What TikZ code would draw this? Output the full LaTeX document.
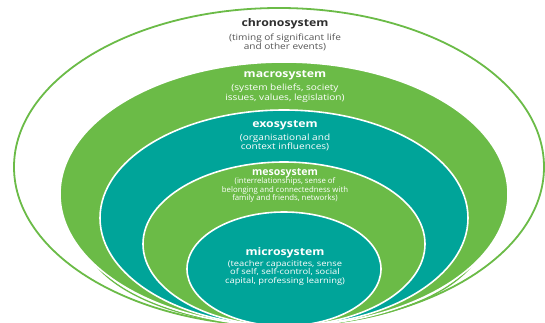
\documentclass[tikz,border=0pt]{standalone}
\usepackage{fontspec}
\setmainfont{Open Sans}
\newfontfamily\ringfont[FakeStretch=1.17]{Open Sans}
\definecolor{ringgreen}{HTML}{6BBB47}
\definecolor{ringteal}{HTML}{00A499}
\definecolor{labelgrey}{HTML}{2E2E2E}
\definecolor{descgrey}{HTML}{555555}
\begin{document}
\begin{tikzpicture}[x=1pt,y=-1pt,
  ring/.style={draw=white, line width=1.6pt},
  title/.style={font=\ringfont\bfseries\fontsize{10.5}{12}\selectfont, text=white, inner sep=0pt},
  desc/.style={font=\ringfont\fontsize{8.6}{9}\selectfont, text=white, align=center, inner sep=0pt},
]
\useasboundingbox (0,0) rectangle (545,323);
\clip (0,0) rectangle (545,323);
\fill[white] (0,0) rectangle (545,323);

% chronosystem: outline only
\draw[ringgreen, line width=1.8pt] (279,167) ellipse [x radius=265, y radius=159];
% thin swoosh line, mostly hidden beneath the macrosystem disc
\draw[ringgreen, line width=1.3pt] (284,232) ellipse [x radius=201, y radius=94];

% nested discs, all meeting near the bottom
\filldraw[ring, fill=ringgreen] (284,194) ellipse [x radius=224, y radius=132];
\filldraw[ring, fill=ringteal]  (284,218) ellipse [x radius=184, y radius=108];
\filldraw[ring, fill=ringgreen] (284,244) ellipse [x radius=141, y radius=82];
\filldraw[ring, fill=ringteal]  (284,269) ellipse [x radius=97,  y radius=57];

% labels
\node[title, text=labelgrey] (chronoT) at (285,24) {chronosystem};
\node[desc, text=descgrey] (chronoD) at (285,42) {(timing of significant life\\and other events)};

\node[title] (macroT) at (285,75) {macrosystem};
\node[desc, font=\ringfont\fontsize{8.6}{8.5}\selectfont] (macroD) at (285,93) {(system beliefs, society\\issues, values, legislation)};

\node[title] (exoT) at (285,125) {exosystem};
\node[desc] (exoD) at (285,142.5) {(organisational and\\context influences)};

\node[title, font=\rmfamily\bfseries\fontsize{10.5}{12}\selectfont] (mesoT) at (285,173) {mesosystem};
\node[desc, font=\rmfamily\fontsize{7.8}{8.3}\selectfont] (mesoD) at (285,190) {(interrelationships, sense of\\belonging and connectedness with\\family and friends, networks)};

\node[title] (microT) at (285,253) {microsystem};
\node[desc, font=\ringfont\fontsize{8}{8.5}\selectfont] (microD) at (285,272.5) {(teacher capacitites, sense\\of self, self-control, social\\capital, professing learning)};
\end{tikzpicture}
\end{document}
